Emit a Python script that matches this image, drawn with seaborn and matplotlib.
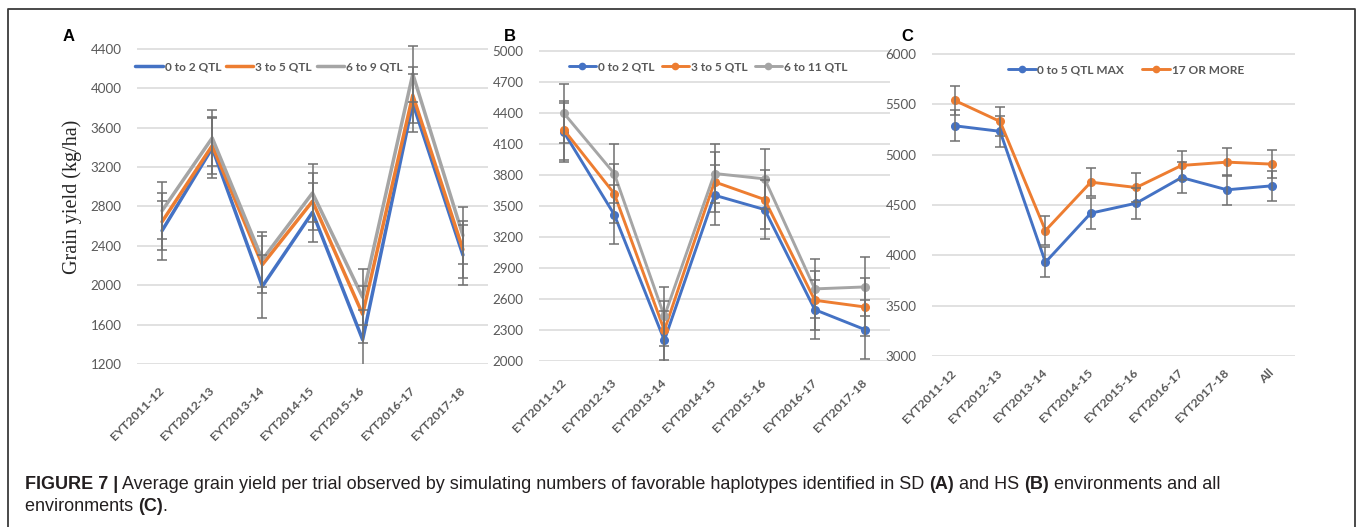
import numpy as np
import pandas as pd
import matplotlib
matplotlib.use("Agg")
import matplotlib.pyplot as plt
from matplotlib.lines import Line2D
import seaborn as sns

# ---------------- data ----------------
trials_ab = ["EYT2011-12", "EYT2012-13", "EYT2013-14", "EYT2014-15",
             "EYT2015-16", "EYT2016-17", "EYT2017-18"]
trials_c = trials_ab + ["All"]

a_groups = ["0 to 2 QTL", "3 to 5 QTL", "6 to 9 QTL"]
a_low = [2554, 3394, 1989, 2741, 1447, 3851, 2307]
a_mid = [2645, 3418, 2209, 2853, 1705, 3930, 2362]
a_high = [2757, 3496, 2260, 2937, 1878, 4145, 2505]
a_err_low = [300, 300, 320, 300, 300, 295, 300]
a_err_mid = [290, 290, 290, 290, 290, 287, 290]
a_err_high = [290, 285, 280, 290, 285, 281, 285]

b_groups = ["0 to 2 QTL", "3 to 5 QTL", "6 to 11 QTL"]
b_low = [4212, 3418, 2200, 3605, 3466, 2497, 2304]
b_mid = [4235, 3621, 2297, 3734, 3563, 2588, 2523]
b_high = [4396, 3815, 2433, 3815, 3763, 2698, 2717]
b_err_low = [285, 285, 285, 290, 285, 285, 285]
b_err_mid = [285, 285, 285, 290, 285, 285, 285]
b_err_high = [290, 285, 285, 285, 288, 285, 285]

c_groups = ["0 to 5 QTL MAX", "17 OR MORE"]
c_low = [5287, 5232, 3931, 4419, 4518, 4773, 4651, 4691]
c_high = [5539, 5330, 4246, 4727, 4674, 4893, 4926, 4906]
c_err_low = [155, 155, 150, 155, 155, 155, 150, 150]
c_err_high = [140, 140, 140, 140, 140, 140, 140, 140]

BLUE, ORANGE, GRAY = "#4472C4", "#ED7D31", "#A5A5A5"
TXT = "#595959"

# ---------------- figure ----------------
sns.set_theme(style="white")
plt.rcParams["font.family"] = ["Lato", "DejaVu Sans"]

W, H = 1357, 527
fig = plt.figure(figsize=(W / 100, H / 100), dpi=100)
fig.patch.set_facecolor("white")


def fx(px):
    return px / W


def fy(py):
    return 1 - py / H


def make_ax(x0, x1, ytop, ybot):
    return fig.add_axes([fx(x0), fy(ybot), fx(x1) - fx(x0), fy(ytop) - fy(ybot)])


def panel(ax, cats, groups, series, errs, colors, marker, lw, ms, ylim, yticks,
          leg_xy, handlelen, colspace, xpad):
    rows = []
    for g, vals in zip(groups, series):
        for c, v in zip(cats, vals):
            rows.append((c, g, v))
    df = pd.DataFrame(rows, columns=["trial", "group", "yield"])
    sns.pointplot(data=df, x="trial", y="yield", hue="group", order=cats,
                  hue_order=groups, palette=colors, markers="o", linestyles="-",
                  errorbar=None, dodge=False, ax=ax, legend=False,
                  linewidth=lw, markersize=ms if marker else 0,
                  markeredgewidth=0 if not marker else 1)
    pos = np.arange(len(cats))
    for vals, e in zip(series, errs):
        ax.errorbar(pos, vals, yerr=e, fmt="none", ecolor="#707070",
                    elinewidth=1.1, capsize=3.5, capthick=1.1, zorder=4)
    ax.set_xlim(-0.5, len(cats) - 0.5)
    ax.set_ylim(*ylim)
    ax.set_yticks(yticks)
    ax.set_yticklabels([str(t) for t in yticks])
    ax.set_xticks(pos)
    ax.set_xticklabels(cats, rotation=45, ha="right", va="center",
                       rotation_mode="anchor", fontweight="bold",
                       fontsize=8.9, color=TXT)
    ax.tick_params(axis="y", length=0, pad=11, labelsize=9.6, labelcolor=TXT)
    ax.tick_params(axis="x", length=0, pad=xpad)
    ax.grid(axis="y", color="#D9D9D9", linewidth=1.1)
    ax.grid(axis="x", visible=False)
    ax.set_axisbelow(True)
    ax.set_xlabel("")
    ax.set_ylabel("")
    sns.despine(ax=ax, left=True, bottom=True)
    handles = [Line2D([], [], color=c, lw=lw, marker="o" if marker else None,
                      ms=ms, markeredgewidth=0) for c in colors]
    ax.legend(handles, groups, loc="center", bbox_to_anchor=(fx(leg_xy[0]), fy(leg_xy[1])),
              bbox_transform=fig.transFigure, ncol=len(groups), frameon=False,
              prop=dict(family="Lato", weight="bold", size=8.6), labelcolor=TXT,
              handlelength=handlelen, handletextpad=0.15, columnspacing=colspace,
              borderaxespad=0, borderpad=0)


axA = make_ax(137, 488, 43, 364)
panel(axA, trials_ab, a_groups, [a_low, a_mid, a_high],
      [a_err_low, a_err_mid, a_err_high], [BLUE, ORANGE, GRAY], False, 2.5, 0,
      (1200, 4460), list(range(1200, 4401, 400)), (269, 67), 2.3, 0.4, 18)

axB = make_ax(539, 890, 48, 361)
panel(axB, trials_ab, b_groups, [b_low, b_mid, b_high],
      [b_err_low, b_err_mid, b_err_high], [BLUE, ORANGE, GRAY], True, 2.1, 5.5,
      (2000, 5030), list(range(2000, 5001, 300)), (708, 67), 2.3, 0.6, 14)

axC = make_ax(932, 1295, 51, 356)
panel(axC, trials_c, c_groups, [c_low, c_high],
      [c_err_low, c_err_high], [BLUE, ORANGE], True, 2.1, 5.5,
      (3000, 6030), list(range(3000, 6001, 500)), (1126, 70), 2.3, 1.5, 11)

# y label and panel letters
fig.text(fx(72), fy(197), "Grain yield (kg/ha)", rotation=90, ha="center",
         va="center", family="Liberation Serif", fontsize=14.5, color="#262626")
for letter, xp in (("A", 63), ("B", 504), ("C", 901)):
    fig.text(fx(xp), fy(41), letter, family="Liberation Sans", fontweight="bold",
             fontsize=12, color="black", va="baseline", ha="left")

# frame around figure
fig.add_artist(Line2D([fx(8), fx(8), fx(1355), fx(1355)], [0, fy(9), fy(9), 0],
                      transform=fig.transFigure, color="#3A3A3A", lw=1.3))

# caption with mixed bold/regular pieces
fig.canvas.draw()
rend = fig.canvas.get_renderer()
CAP_SIZE = 13
CAP_COLOR = "#231F20"


def width_of(txt, bold):
    kw = dict(fontsize=CAP_SIZE, family="Liberation Sans",
              fontweight="bold" if bold else "normal")
    t1 = fig.text(0, 0, "X" + txt + "X", **kw)
    t2 = fig.text(0, 0, "XX", **kw)
    w = t1.get_window_extent(rend).width - t2.get_window_extent(rend).width
    t1.remove()
    t2.remove()
    return w


def rich_line(x_px, y_px, parts):
    x = x_px
    for txt, bold in parts:
        fig.text(fx(x), fy(y_px), txt, fontsize=CAP_SIZE, family="Liberation Sans",
                 fontweight="bold" if bold else "normal", color=CAP_COLOR,
                 va="baseline", ha="left")
        x += width_of(txt, bold)


rich_line(25, 489, [("FIGURE 7 |", True),
                    (" Average grain yield per trial observed by simulating numbers of "
                     "favorable haplotypes identified in SD ", False),
                    ("(A)", True), (" and HS ", False), ("(B)", True),
                    (" environments and all", False)])
rich_line(25, 511, [("environments ", False), ("(C)", True), (".", False)])

fig.savefig("out.png", dpi=100, facecolor="white")
